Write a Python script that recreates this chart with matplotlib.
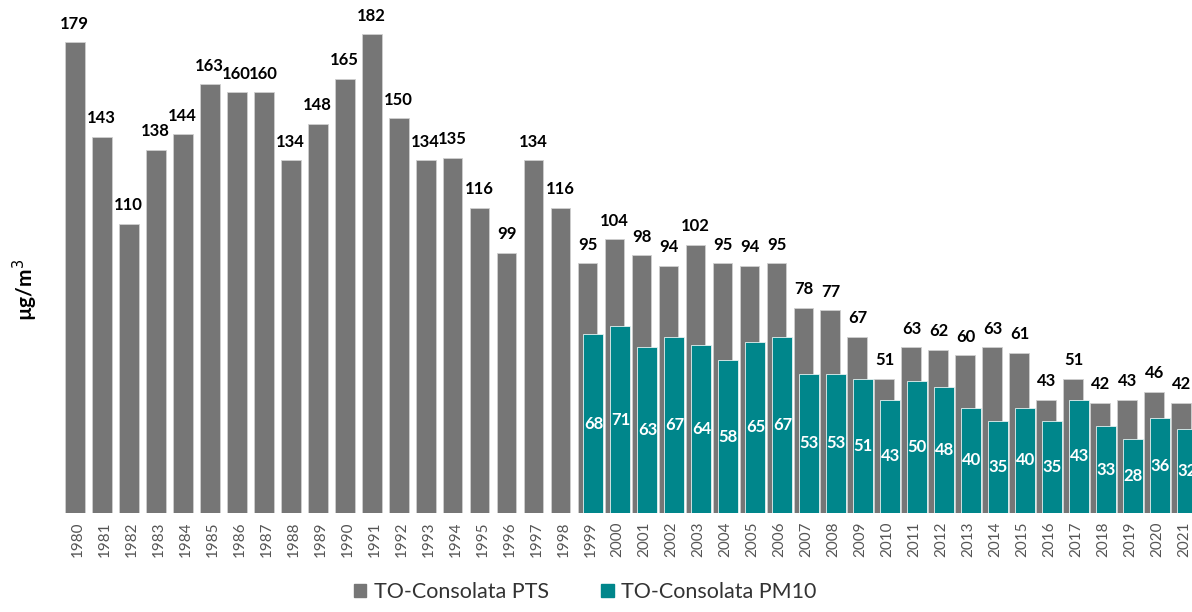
import numpy as np
import matplotlib
matplotlib.use("Agg")
import matplotlib.pyplot as plt
from matplotlib.patches import Patch

years = list(range(1980, 2022))
pts = [179, 143, 110, 138, 144, 163, 160, 160, 134, 148, 165, 182, 150, 134,
       135, 116, 99, 134, 116, 95, 104, 98, 94, 102, 95, 94, 95, 78, 77, 67,
       51, 63, 62, 60, 63, 61, 43, 51, 42, 43, 46, 42]
pm10_years = list(range(1999, 2022))
pm10 = [68, 71, 63, 67, 64, 58, 65, 67, 53, 53, 51, 43, 50, 48, 40, 35, 40,
        35, 43, 33, 28, 36, 32]

GREY = "#767676"
TEAL = "#00868b"
plt.rcParams['font.family'] = ['Lato', 'DejaVu Sans']

fig = plt.figure(figsize=(11.92, 6.12), dpi=100)
ax = fig.add_axes([64 / 1192, 99 / 612, 1128 / 1192, 513 / 612])

x = np.arange(len(years))
xp = np.array([years.index(y) for y in pm10_years])
w = 0.74
off = 0.11

ax.bar(x - off, pts, width=w, color=GREY, edgecolor="#cfcfcf", linewidth=0.6)
ax.bar(xp + off, pm10, width=w, color=TEAL, edgecolor="#e6f2f2", linewidth=0.6)

for xi, v in zip(x - off, pts):
    ax.text(xi, v + 4, str(v), ha="center", va="bottom", fontsize=12,
            fontweight="bold", color="black")
for xi, v in zip(xp + off, pm10):
    ax.text(xi, v / 2, str(v), ha="center", va="center", fontsize=12,
            fontweight="bold", color="white")

ax.set_xlim(-0.5, 41.28)
ax.set_ylim(0, 195)
ax.set_xticks(x)
ax.set_xticklabels([str(y) for y in years], rotation=90, fontsize=11,
                   color="#555555")
ax.tick_params(axis="x", length=0, pad=6)
ax.set_yticks([])
for s in ax.spines.values():
    s.set_visible(False)

fig.text(25 / 1192, 1 - 290 / 612, "µg/m$^3$", rotation=90, ha="center",
         va="center", fontsize=15, fontweight="bold")

handles = [Patch(color=GREY, label="TO-Consolata PTS"),
           Patch(color=TEAL, label="TO-Consolata PM10")]
fig.legend(handles=handles, loc="center", bbox_to_anchor=(585 / 1192, 1 - 592 / 612),
           ncol=2, frameon=False, handlelength=0.6, handleheight=0.6,
           handletextpad=0.35, columnspacing=2.4,
           prop={"size": 15.5}, labelcolor="#333333")

fig.savefig("out.png", dpi=100)
